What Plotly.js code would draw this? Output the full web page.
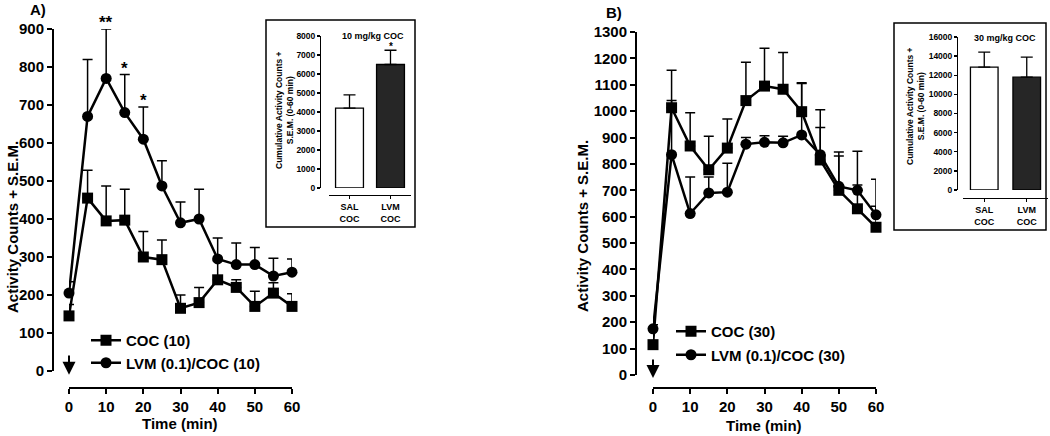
<!DOCTYPE html>
<html>
<head>
<meta charset="utf-8">
<script src="https://cdn.plot.ly/plotly-3.0.1.min.js"></script>
<style>html,body{margin:0;padding:0;background:#fff;}#chart{width:1050px;height:436px;}</style>
</head>
<body>
<div id="chart"></div>
<script>
// ---------- data ----------
const timeMin = [0, 5, 10, 15, 20, 25, 30, 35, 40, 45, 50, 55, 60];
const xTicks = [0, 10, 20, 30, 40, 50, 60];

// Panel A (10 mg/kg cocaine)
const cocA     = [145, 455, 395, 397, 300, 293, 165, 180, 240, 220, 170, 205, 170];
const cocA_sem = [30, 73, 92, 81, 67, 52, 35, 40, 50, 20, 40, 27, 33];
const lvmA     = [205, 670, 770, 680, 610, 487, 390, 400, 295, 280, 280, 250, 260];
const lvmA_sem = [30, 150, 130, 100, 85, 66, 55, 78, 55, 57, 45, 47, 35];
const nameCocA = 'COC (10)';
const nameLvmA = 'LVM (0.1)/COC (10)';
const sigA = [{x: 10, y: 918, t: '**'}, {x: 15, y: 795, t: '*'}, {x: 20, y: 712, t: '*'}];

// Panel B (30 mg/kg cocaine)
const cocB     = [115, 1013, 868, 778, 860, 1040, 1095, 1083, 998, 815, 700, 630, 560];
const cocB_sem = [12, 142, 126, 127, 110, 145, 143, 139, 110, 190, 145, 90, 80];
const lvmB     = [175, 835, 612, 690, 693, 875, 882, 880, 910, 835, 715, 700, 607];
const lvmB_sem = [15, 205, 138, 60, 110, 25, 25, 25, 195, 103, 115, 148, 135];
const nameCocB = 'COC (30)';
const nameLvmB = 'LVM (0.1)/COC (30)';

// Insets: cumulative counts 0-60 min
const insetCats = ['SAL<br>COC', 'LVM<br>COC'];
const cumA      = [4200, 6500];
const cumA_sem  = [700, 750];
const cumB      = [12850, 11800];
const cumB_sem  = [1570, 2100];
const barColors = ['#ffffff', '#262626'];

// ---------- helpers ----------
const W = 1050, H = 436;
const fx = p => p / W;
const fy = p => 1 - p / H;
const FAM = 'Liberation Sans, Arial, sans-serif';
const zeros = a => a.map(() => 0);

function lineTrace(x, y, sem, name, symbol, xa, ya, leg, grp) {
  return {
    type: 'scatter', mode: 'lines+markers', x: x, y: y, name: name,
    xaxis: xa, yaxis: ya, legend: leg, legendgroup: grp, cliponaxis: false,
    line: {color: '#000', width: 2.5},
    marker: {symbol: symbol, size: 11, color: '#000'},
    error_y: {type: 'data', symmetric: false, array: sem, arrayminus: zeros(sem),
              color: '#000', thickness: 1.5, width: 5},
    hoverinfo: 'x+y'
  };
}
function barTrace(y, sem, xa, ya, w) {
  return {
    type: 'bar', x: insetCats, y: y, xaxis: xa, yaxis: ya, width: w,
    showlegend: false,
    marker: {color: barColors, line: {color: '#000', width: 1.3}},
    error_y: {type: 'data', symmetric: false, array: sem, arrayminus: zeros(sem),
              color: '#000', thickness: 1.3, width: 6}
  };
}

const traces = [
  lineTrace(timeMin, cocA, cocA_sem, nameCocA, 'square', 'x', 'y', 'legend', 'a1'),
  lineTrace(timeMin, lvmA, lvmA_sem, nameLvmA, 'circle', 'x', 'y', 'legend', 'a2'),
  barTrace(cumA, cumA_sem, 'x2', 'y2', 0.68),
  barTrace(cumB, cumB_sem, 'x3', 'y3', 0.65),
  lineTrace(timeMin, cocB, cocB_sem, nameCocB, 'square', 'x4', 'y4', 'legend2', 'b1'),
  lineTrace(timeMin, lvmB, lvmB_sem, nameLvmB, 'circle', 'x4', 'y4', 'legend2', 'b2')
];

const mainTick = {family: FAM, size: 15, color: '#000', weight: 'bold'};
const smallTick = {family: FAM, size: 8.5, color: '#000', weight: 'bold'};

function mainX(d0, d1, pos) {
  return {domain: [fx(d0), fx(d1)], range: [0, 60], anchor: 'free', position: fy(pos),
    tickvals: xTicks, showgrid: false, zeroline: false, showline: true,
    linecolor: '#000', linewidth: 2, ticks: 'outside', ticklen: 5, tickwidth: 2,
    tickcolor: '#000', tickfont: mainTick, fixedrange: true};
}
function mainY(top, bot, max, pos) {
  return {domain: [fy(bot), fy(top)], range: [0, max], dtick: 100, anchor: 'free',
    position: fx(pos), showgrid: false, zeroline: false, showline: true,
    linecolor: '#000', linewidth: 2, ticks: 'outside', ticklen: 5, tickwidth: 2,
    tickcolor: '#000', tickfont: mainTick, fixedrange: true};
}
function insetX(d0, d1, pos) {
  return {domain: [fx(d0), fx(d1)], type: 'category', range: [-0.5, 1.5],
    anchor: 'free', position: fy(pos), showgrid: false, zeroline: false,
    showline: true, linecolor: '#000', linewidth: 1.3, ticks: 'outside',
    ticklen: 3, tickwidth: 1.3, tickcolor: '#000',
    tickfont: {family: FAM, size: 9, color: '#000', weight: 'bold'}, fixedrange: true};
}
function insetY(top, bot, max, dt, pos) {
  return {domain: [fy(bot), fy(top)], range: [0, max], dtick: dt, anchor: 'free',
    position: fx(pos), showgrid: false, zeroline: false, showline: true,
    linecolor: '#000', linewidth: 1.3, ticks: 'outside', ticklen: 3,
    tickformat: 'd', tickwidth: 1.3, tickcolor: '#000', tickfont: smallTick, fixedrange: true};
}

function ann(text, x, y, size, extra) {
  return Object.assign({text: text, x: x, y: y, xref: 'paper', yref: 'paper',
    xanchor: 'center', yanchor: 'middle', showarrow: false,
    font: {family: FAM, size: size, color: '#000', weight: 'bold'}}, extra || {});
}

const xA = mainX(69, 292, 388), yA = mainY(29, 371, 900, 53);
// map a panel-A data point to paper coordinates (so marks above the axis range stay visible)
const pA = (xv, yv) => [xA.domain[0] + (xA.domain[1] - xA.domain[0]) * xv / 60,
                        yA.domain[0] + (yA.domain[1] - yA.domain[0]) * yv / 900];

const sigAnn = sigA.map(s => {
  const p = pA(s.x, s.y);
  return ann(s.t, p[0], p[1], 17);
});

const legendFont = {family: FAM, size: 15, color: '#000', weight: 'bold'};

const layout = {
  width: W, height: H,
  margin: {l: 0, r: 0, t: 0, b: 0},
  paper_bgcolor: '#fff', plot_bgcolor: 'rgba(0,0,0,0)',
  font: {family: FAM, color: '#000'},
  xaxis: xA,
  yaxis: yA,
  xaxis2: insetX(329, 411, 195),
  yaxis2: insetY(36, 188, 8000, 1000, 320),
  xaxis3: insetX(963, 1048, 198),
  yaxis3: insetY(37, 190, 16000, 2000, 957),
  xaxis4: mainX(653, 876, 388),
  yaxis4: mainY(32, 375, 1300, 636),
  legend: {x: fx(86), y: fy(324), xanchor: 'left', yanchor: 'top',
    traceorder: 'grouped', tracegroupgap: 0, bgcolor: 'rgba(0,0,0,0)', font: legendFont},
  legend2: {x: fx(671), y: fy(315), xanchor: 'left', yanchor: 'top',
    traceorder: 'grouped', tracegroupgap: 1, bgcolor: 'rgba(0,0,0,0)', font: legendFont},
  shapes: [
    {type: 'rect', xref: 'paper', yref: 'paper', x0: fx(266), x1: fx(415), y0: fy(227), y1: fy(20),
     line: {color: '#000', width: 1.5}},
    {type: 'rect', xref: 'paper', yref: 'paper', x0: fx(894), x1: fx(1046), y0: fy(230), y1: fy(23),
     line: {color: '#000', width: 1.5}}
  ],
  annotations: [
    ann('A)', fx(38), fy(9), 15),
    ann('B)', fx(614), fy(12), 15),
    ann('Activity Counts + S.E.M.', fx(12), fy(227), 15, {textangle: -90}),
    ann('Time (min)', fx(180), fy(423), 15),
    ann('Activity Counts + S.E.M.', fx(582), fy(226), 15, {textangle: -90}),
    ann('Time (min)', fx(764), fy(425), 15),
    ann('10 mg/kg COC', fx(373), fy(36), 9),
    ann('30 mg/kg COC', fx(1005), fy(38), 9),
    ann('Cumulative Activity Counts +<br>S.E.M. (0-60 min)', fx(285), fy(110), 8.5, {textangle: -90}),
    ann('Cumulative Activity Counts +<br>S.E.M. (0-60 min)', fx(915), fy(106), 8.5, {textangle: -90}),
    {text: '*', x: insetCats[1], y: 7450, xref: 'x2', yref: 'y2', showarrow: false,
     xanchor: 'center', yanchor: 'middle',
     font: {family: FAM, size: 10, color: '#000', weight: 'bold'}},
    // injection arrows
    {text: '', x: 0, y: -10, xref: 'x', yref: 'y', ax: 0, ay: 45, axref: 'x', ayref: 'y',
     showarrow: true, arrowhead: 2, arrowsize: 1.3, arrowwidth: 2, arrowcolor: '#000'},
    {text: '', x: 0, y: -11, xref: 'x4', yref: 'y4', ax: 0, ay: 64, axref: 'x4', ayref: 'y4',
     showarrow: true, arrowhead: 2, arrowsize: 1.3, arrowwidth: 2, arrowcolor: '#000'}
  ].concat(sigAnn),
  showlegend: true,
  hovermode: false
};

Plotly.newPlot('chart', traces, layout, {displayModeBar: false, staticPlot: true});
</script>
</body>
</html>
